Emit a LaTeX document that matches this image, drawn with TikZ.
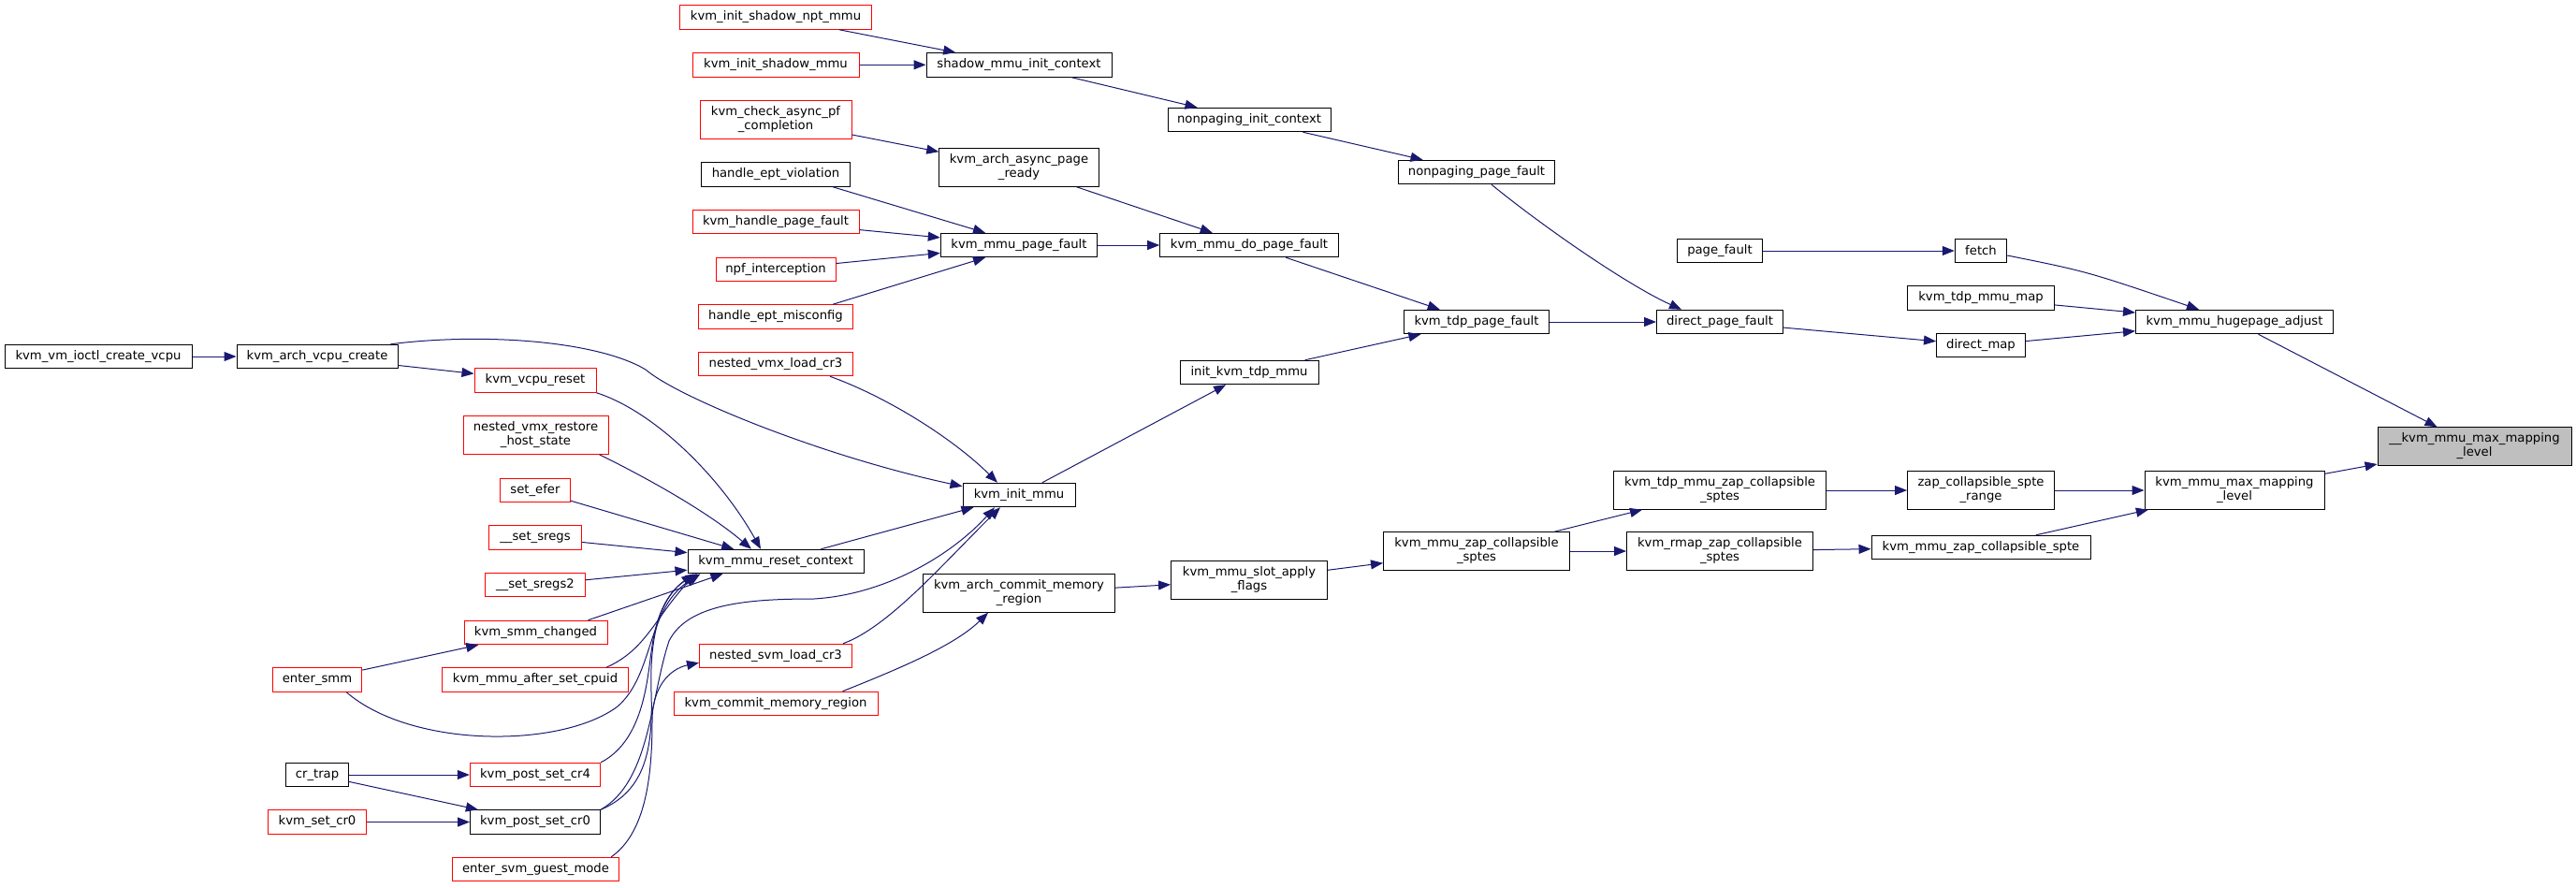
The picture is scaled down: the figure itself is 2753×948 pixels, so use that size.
\documentclass[tikz,border=0pt]{standalone}
\usepackage{fontspec}
\setmainfont{DejaVu Sans}
\usepackage{tikz}
\usetikzlibrary{shapes,arrows.meta}
\definecolor{edgeblue}{HTML}{191970}
\definecolor{boxred}{HTML}{FF0000}
\definecolor{rootgray}{HTML}{BFBFBF}
\newcommand{\kvmnode}[5] {\node at (#1) (#2) [#3, minimum width=#4pt] {#5};}
\newcommand{\kvmcall}[2] {\draw [call] (#1) -- (#2);}

\begin{document}
\begin{tikzpicture}[x=1pt, y=1pt,
  fn/.style={rectangle, draw=black, line width=1pt, minimum height=25.5pt, inner sep=1pt, align=center, font=\fontsize{13.2}{15}\selectfont},
  fnred/.style={fn, draw=boxred},
  fnroot/.style={fn, fill=rootgray, minimum height=40.5pt},
  two/.style={minimum height=40.5pt},
  call/.style={draw=edgeblue, line width=1pt, -{Triangle[length=13pt, width=10pt]}}]

\useasboundingbox (0,0) rectangle (2753,-948);

% callers, left to right
\kvmnode {105,-381} {ioctl} {fn} {200} {kvm\_vm\_ioctl\_create\_vcpu};

\kvmnode {339,-381} {vcpucreate} {fn} {172} {kvm\_arch\_vcpu\_create};
\kvmnode {339,-726.5} {entersmm} {fnred} {95.5} {enter\_smm};
\kvmnode {339,-828} {crtrap} {fn} {66.5} {cr\_trap};
\kvmnode {339,-878.5} {setcrzero} {fnred} {104.6} {kvm\_set\_cr0};

\kvmnode {572,-406.5} {vcpureset} {fnred} {130} {kvm\_vcpu\_reset};
\kvmnode {572.5,-465} {restorehost} {fnred, two} {155} {nested\_vmx\_restore\\\_host\_state};
\kvmnode {572,-524} {setefer} {fnred} {75} {set\_efer};
\kvmnode {572,-574.5} {setsregs} {fnred} {99} {\_\_set\_sregs};
\kvmnode {572,-625} {setsregstwo} {fnred} {107} {\_\_set\_sregs2};
\kvmnode {572.5,-676} {smmchanged} {fnred} {153} {kvm\_smm\_changed};
\kvmnode {572,-726.5} {aftercpuid} {fnred} {198.6} {kvm\_mmu\_after\_set\_cpuid};
\kvmnode {572,-828} {postcrfour} {fnred} {139.4} {kvm\_post\_set\_cr4};
\kvmnode {572,-878.5} {postcrzero} {fn} {139} {kvm\_post\_set\_cr0};
\kvmnode {572.5,-929} {svmguest} {fnred} {178.5} {enter\_svm\_guest\_mode};

\kvmnode {829,-18.5} {nptmmu} {fnred} {205} {kvm\_init\_shadow\_npt\_mmu};
\kvmnode {829,-69.3} {shadowmmu} {fnred} {178} {kvm\_init\_shadow\_mmu};
\kvmnode {829,-128} {asyncpf} {fnred, two} {162} {kvm\_check\_async\_pf\\\_completion};
\kvmnode {829,-186.5} {eptviol} {fn} {159} {handle\_ept\_violation};
\kvmnode {829,-237} {handlepf} {fnred} {178} {kvm\_handle\_page\_fault};
\kvmnode {829,-288} {npfint} {fnred} {128} {npf\_interception};
\kvmnode {829,-338.5} {eptmis} {fnred} {165} {handle\_ept\_misconfig};
\kvmnode {829,-389} {vmxcr3} {fnred} {165} {nested\_vmx\_load\_cr3};
\kvmnode {829,-600} {resetctx} {fn} {188} {kvm\_mmu\_reset\_context};
\kvmnode {829,-701} {svmcr3} {fnred} {163} {nested\_svm\_load\_cr3};
\kvmnode {829,-752} {commit} {fnred} {218} {kvm\_commit\_memory\_region};

\kvmnode {1089,-69.3} {shadowctx} {fn} {198} {shadow\_mmu\_init\_context};
\kvmnode {1089,-179} {asyncready} {fn, two} {170.5} {kvm\_arch\_async\_page\\\_ready};
\kvmnode {1089,-262} {mmupf} {fn} {167.4} {kvm\_mmu\_page\_fault};
\kvmnode {1089,-529} {initmmu} {fn} {120} {kvm\_init\_mmu};
\kvmnode {1089,-634} {archcommit} {fn, two} {205} {kvm\_arch\_commit\_memory\\\_region};

\kvmnode {1335,-128} {npctx} {fn} {174} {nonpaging\_init\_context};
\kvmnode {1335,-262} {dopf} {fn} {190.6} {kvm\_mmu\_do\_page\_fault};
\kvmnode {1335,-398} {tdpmmu} {fn} {148} {init\_kvm\_tdp\_mmu};
\kvmnode {1335,-620} {slotflags} {fn, two} {167} {kvm\_mmu\_slot\_apply\\\_flags};

\kvmnode {1578,-184} {nppf} {fn} {166.5} {nonpaging\_page\_fault};
\kvmnode {1578,-344} {tdppf} {fn} {155} {kvm\_tdp\_page\_fault};
\kvmnode {1578,-589} {mmuzap} {fn, two} {199} {kvm\_mmu\_zap\_collapsible\\\_sptes};

\kvmnode {1838,-268} {pagefault} {fn} {91} {page\_fault};
\kvmnode {1838,-344} {directpf} {fn} {135} {direct\_page\_fault};
\kvmnode {1838,-524} {tdpzap} {fn, two} {227} {kvm\_tdp\_mmu\_zap\_collapsible\\\_sptes};
\kvmnode {1838,-589} {rmapzap} {fn, two} {199} {kvm\_rmap\_zap\_collapsible\\\_sptes};

\kvmnode {2117,-268} {fetch} {fn} {55.5} {fetch};
\kvmnode {2117,-318.5} {tdpmap} {fn} {157} {kvm\_tdp\_mmu\_map};
\kvmnode {2117,-369} {directmap} {fn} {95} {direct\_map};
\kvmnode {2117,-524} {zaprange} {fn, two} {157} {zap\_collapsible\_spte\\\_range};
\kvmnode {2117,-585} {zapspte} {fn} {234} {kvm\_mmu\_zap\_collapsible\_spte};

\kvmnode {2388,-344} {hugeadj} {fn} {211} {kvm\_mmu\_hugepage\_adjust};
\kvmnode {2388,-524} {maxlevel} {fn, two} {192} {kvm\_mmu\_max\_mapping\\\_level};

% the function itself
\kvmnode {2644.5,-477} {rootlevel} {fnroot} {207} {\_\_kvm\_mmu\_max\_mapping\\\_level};

% straight calls
\kvmcall {ioctl}{vcpucreate};
\kvmcall {vcpucreate}{vcpureset};
\kvmcall {setefer}{resetctx};
\kvmcall {setsregs}{resetctx};
\kvmcall {setsregstwo}{resetctx};
\kvmcall {[xshift=-21pt]smmchanged.north east}{[xshift=38pt]resetctx.south west};
\kvmcall {entersmm}{smmchanged};
\kvmcall {crtrap}{postcrfour};
\kvmcall {crtrap}{postcrzero};
\kvmcall {setcrzero}{postcrzero};
\kvmcall {nptmmu}{shadowctx};
\kvmcall {shadowmmu}{shadowctx};
\kvmcall {shadowctx}{npctx};
\kvmcall {npctx}{nppf};
\kvmcall {asyncpf}{asyncready};
\kvmcall {asyncready}{dopf};
\kvmcall {[xshift=61pt]eptviol.south}{[xshift=-36pt]mmupf.north};
\kvmcall {handlepf}{mmupf};
\kvmcall {npfint}{mmupf};
\kvmcall {[xshift=61pt]eptmis.north}{[xshift=-36pt]mmupf.south};
\kvmcall {mmupf}{dopf};
\kvmcall {dopf}{tdppf};
\kvmcall {tdpmmu}{tdppf};
\kvmcall {tdppf}{directpf};
\kvmcall {directpf}{directmap};
\kvmcall {pagefault}{fetch};
\kvmcall {tdpmap}{hugeadj};
\kvmcall {directmap}{hugeadj};
\kvmcall {hugeadj}{rootlevel};
\kvmcall {maxlevel}{rootlevel};
\kvmcall {zaprange}{maxlevel};
\kvmcall {zapspte}{maxlevel};
\kvmcall {tdpzap}{zaprange};
\kvmcall {rmapzap}{zapspte};
\kvmcall {mmuzap}{tdpzap};
\kvmcall {mmuzap}{rmapzap};
\kvmcall {slotflags}{mmuzap};
\kvmcall {archcommit}{slotflags};
\kvmcall {resetctx}{initmmu};
\kvmcall {initmmu}{tdpmmu};

% curved calls
\draw [call] ([xshift=16pt]nppf.south) .. controls (1650,-243) and (1740,-305) .. ([xshift=-41pt]directpf.north);
\draw [call] ([yshift=-5pt]fetch.east) .. controls (2230,-290) .. ([xshift=-38pt]hugeadj.north);
\draw [call] ([xshift=-38pt]commit.north east) .. controls (960,-715) and (1020,-690) .. ([xshift=-33pt]archcommit.south);
\draw [call] ([xshift=-8pt]vcpucreate.north east) .. controls (520,-355) and (640,-365) .. (690,-395)
  .. controls (725,-425) and (880,-488) .. ([yshift=-4pt]initmmu.north west);
\draw [call] ([xshift=-25pt]vmxcr3.south east) .. controls (950,-425) and (1020,-470) .. ([xshift=-23pt]initmmu.north);
\draw [call] (vcpureset.south east) .. controls (700,-440) and (770,-510) .. ([xshift=-16pt]resetctx.north);
\draw [call] ([xshift=-10pt]restorehost.south east) .. controls (700,-515) and (760,-550) .. ([xshift=-26pt]resetctx.north);
\draw [call] ([xshift=-24pt]aftercpuid.north east) .. controls (690,-695) and (700,-660) .. ([xshift=9pt]resetctx.south west);
\draw [call] ([xshift=-17pt]entersmm.south east) .. controls (440,-800) and (600,-800) .. (660,-755)
  .. controls (700,-720) and (690,-650) .. ([xshift=14pt]resetctx.south west);
\draw [call] (postcrfour.north east) .. controls (690,-790) and (692,-720) .. (697,-690)
  .. controls (702,-655) and (715,-630) .. ([xshift=11pt]resetctx.south west);
\draw [call] (postcrzero.north east) .. controls (690,-845) and (698,-800) .. (696,-740)
  .. controls (694,-680) and (705,-640) .. ([xshift=7pt]resetctx.south west);
\draw [call] (postcrzero.north east) .. controls (695,-835) and (695,-745) .. (715,-685)
  .. controls (735,-645) and (800,-640) .. (870,-640)
  .. controls (950,-635) and (1020,-590) .. ([xshift=-26pt]initmmu.south);
\draw [call] ([xshift=-9pt]svmguest.north east) .. controls (690,-890) and (697,-830) .. (697,-770)
  .. controls (697,-735) and (715,-715) .. ([yshift=6pt]svmcr3.south west);
\draw [call] ([xshift=-10pt]svmcr3.north east) .. controls (950,-670) and (1010,-600) .. ([xshift=-20pt]initmmu.south);

\end{tikzpicture}
\end{document}
